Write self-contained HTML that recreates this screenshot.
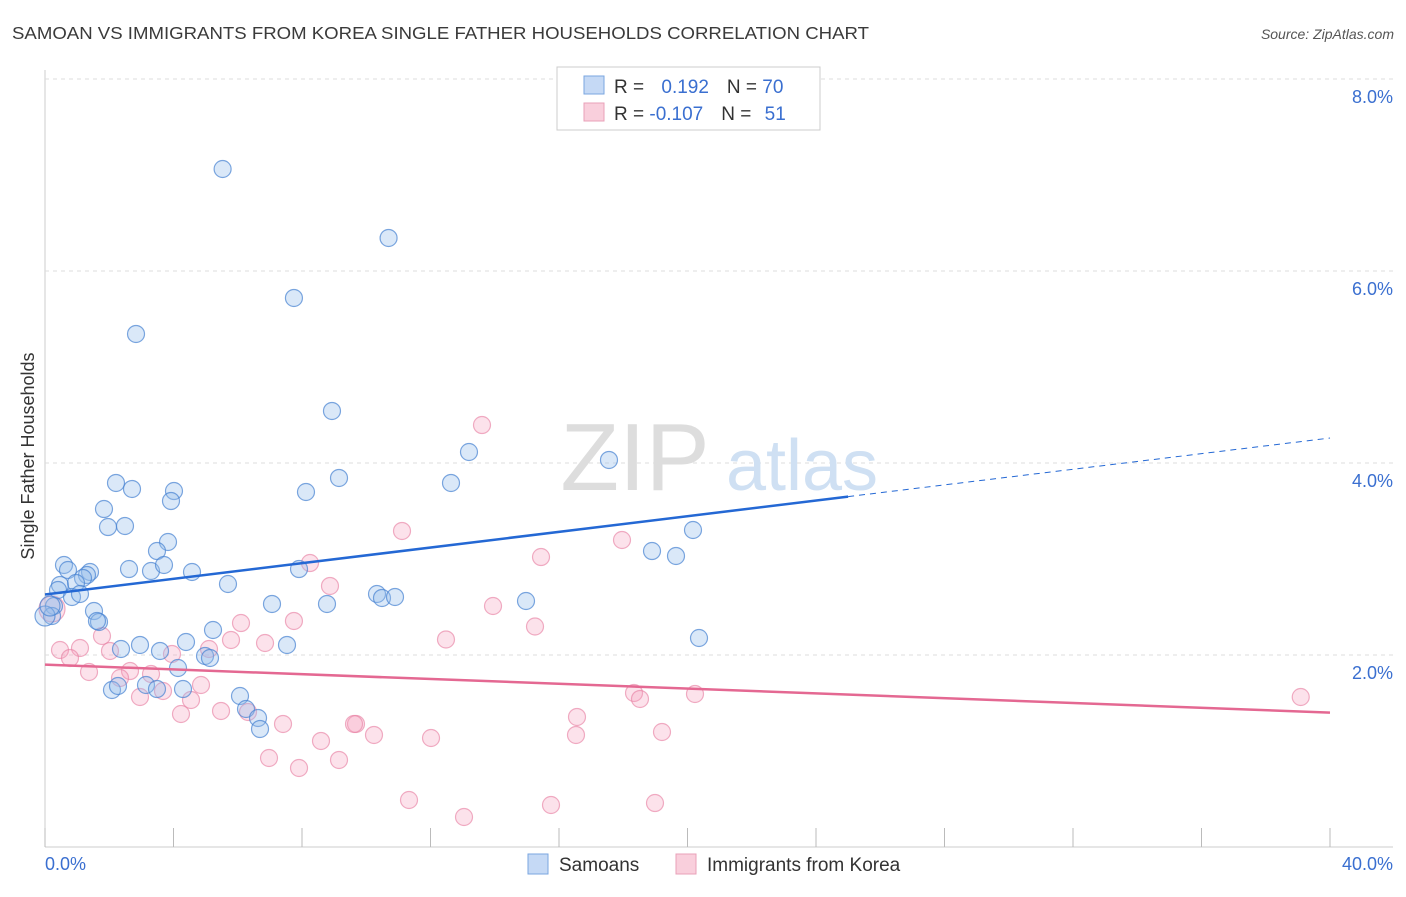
<!DOCTYPE html>
<html><head><meta charset="utf-8"><style>
body{margin:0;background:#fff;font-family:"Liberation Sans",sans-serif;}
svg text{font-family:"Liberation Sans",sans-serif;}
</style></head><body>
<svg id="chart" width="1406" height="892" viewBox="0 0 1406 892" xmlns="http://www.w3.org/2000/svg">
<text x="12" y="39" font-size="17.5" fill="#3a3a3a" textLength="857" lengthAdjust="spacingAndGlyphs">SAMOAN VS IMMIGRANTS FROM KOREA SINGLE FATHER HOUSEHOLDS CORRELATION CHART</text>
<text x="1394" y="39" font-size="14" fill="#555" text-anchor="end" font-style="italic">Source: ZipAtlas.com</text>
<text transform="translate(34,456) rotate(-90)" font-size="18" fill="#333" text-anchor="middle">Single Father Households</text>
<g id="grid"></g>
<g><text x="635" y="490" font-size="96" fill="#ddd" font-family="Liberation Serif" text-anchor="middle">ZIP</text><text x="802" y="490" font-size="72" fill="#cfe0f3" text-anchor="middle">atlas</text></g>
<g id="points"></g>
<g id="trends"></g>
<g id="xticks"></g>
<g>
<rect x="557" y="67" width="263" height="63" fill="#fff" stroke="#ccc"/>
<rect x="584" y="76" width="20" height="18" fill="#c5d9f5" stroke="#7aa6e0"/>
<rect x="584" y="103" width="20" height="18" fill="#f9cfdc" stroke="#e9a0b8"/>
<text x="614" y="93" font-size="19" fill="#333">R = <tspan fill="#3a6fd0" dx="12">0.192</tspan><tspan dx="18" fill="#333">N = </tspan><tspan fill="#3a6fd0">70</tspan></text>
<text x="614" y="120" font-size="19" fill="#333">R = <tspan fill="#3a6fd0">-0.107</tspan><tspan dx="18" fill="#333">N = </tspan><tspan fill="#3a6fd0" dx="8">51</tspan></text>
</g>
<g>
<rect x="528" y="854" width="20" height="20" fill="#c5d9f5" stroke="#7aa6e0"/>
<text x="559" y="871" font-size="19" fill="#333">Samoans</text>
<rect x="676" y="854" width="20" height="20" fill="#f9cfdc" stroke="#e9a0b8"/>
<text x="707" y="871" font-size="19" fill="#333">Immigrants from Korea</text>
</g>
<text x="45" y="870" font-size="18" fill="#3a6fd0">0.0%</text>
<text x="1393" y="870" font-size="18" fill="#3a6fd0" text-anchor="end">40.0%</text>
</svg>
<script>
const yTicks=[2,4,6,8];
const yTickLabels=["2.0%","4.0%","6.0%","8.0%"];
const xTicks=[0,4,8,12,16,20,24,28,32,36,40];
const samoanX=[5.529,10.695,7.749,2.833,8.933,13.198,17.556,2.210,2.708,4.015,3.922,8.124,9.152,12.638,1.836,1.961,2.490,20.171,3.829,3.486,18.895,19.642,0.591,0.716,1.401,1.307,1.183,2.615,3.300,3.704,4.576,7.907,0.467,0.965,0.405,0.840,1.089,5.696,10.335,10.490,10.895,14.973,7.066,8.778,0.280,1.525,0.218,1.681,1.618,4.389,2.957,5.230,7.533,20.358,2.366,3.580,4.981,5.136,4.140,3.144,2.085,2.272,3.486,4.296,6.070,6.257,6.631,6.693,0.0,0.156];
const samoanY=[7.0625,6.3438,5.7188,5.3438,4.5417,4.1146,4.0313,3.7917,3.7292,3.7083,3.6042,3.6979,3.8438,3.7917,3.5208,3.3333,3.3438,3.3021,3.1771,3.0833,3.0833,3.0313,2.9375,2.8854,2.8646,2.8333,2.8021,2.8958,2.8750,2.9375,2.8646,2.8958,2.7292,2.7500,2.6771,2.6042,2.6354,2.7396,2.6354,2.5938,2.6042,2.5625,2.5313,2.5313,2.5104,2.4583,2.4063,2.3438,2.3542,2.1354,2.1042,2.2604,2.1042,2.1771,2.0625,2.0417,1.9896,1.9688,1.8646,1.6875,1.6354,1.6771,1.6458,1.6458,1.5729,1.4375,1.3438,1.2292,2.4063,2.5104];
const koreaX=[13.603,11.113,17.961,15.440,8.249,8.871,13.946,7.749,6.101,15.253,12.482,1.774,6.849,5.790,0.467,1.089,0.778,2.023,5.105,3.953,1.370,2.646,3.300,2.335,3.673,4.856,2.957,4.545,18.335,18.521,20.233,4.233,5.479,6.319,7.409,9.681,9.619,10.241,16.560,16.529,19.206,12.016,8.591,6.973,9.152,7.907,11.331,15.751,18.988,13.043,0.218,39.089];
const koreaY=[4.3958,3.2917,3.1979,3.0208,2.9583,2.7188,2.5104,2.3542,2.3333,2.2969,2.1615,2.1979,2.1250,2.1563,2.0521,2.0729,1.9688,2.0417,2.0625,2.0104,1.8229,1.8333,1.8021,1.7604,1.6250,1.6875,1.5625,1.5313,1.6042,1.5417,1.5938,1.3854,1.4167,1.4063,1.2813,1.2813,1.2813,1.1667,1.3542,1.1667,1.1979,1.1354,1.1042,0.9271,0.9063,0.8229,0.4896,0.4375,0.4583,0.3125,2.4792,1.5625];
const blueTrend=[[0,2.63],[25,3.65],[40,4.26]];
const pinkTrend=[[0,1.90],[40,1.40]];
const NS="http://www.w3.org/2000/svg";
const X=v=>45+v/40*1285, Y=v=>847-v*96;
function mk(t,a,p){const e=document.createElementNS(NS,t);for(const k in a)e.setAttribute(k,a[k]);p.appendChild(e);return e;}
const grid=document.getElementById('grid');
mk('line',{x1:45,y1:70,x2:45,y2:847,stroke:'#ccc'},grid);
mk('line',{x1:45,y1:847,x2:1393,y2:847,stroke:'#ccc'},grid);
yTicks.forEach((v,i)=>{
 const l=mk('line',{x1:45,y1:Y(v),x2:1393,y2:Y(v),stroke:'#ddd','stroke-dasharray':'4,4'},grid);
 
 
 const t=mk('text',{x:1393,y:Y(v)+24,'font-size':18,fill:'#3a6fd0','text-anchor':'end'},grid);
 t.textContent=yTickLabels[i];
 
 
});
const xt=document.getElementById('xticks');
xTicks.forEach(v=>{const l=mk('line',{x1:X(v),y1:828,x2:X(v),y2:847,stroke:'#bbb'},xt);
 
 });
const pts=document.getElementById('points');
koreaX.forEach((x,i)=>{const c=mk('circle',{cx:X(x),cy:Y(koreaY[i]),r:i==50?13:8.5,fill:'rgba(244,160,188,0.3)',stroke:'rgba(232,130,165,0.65)','stroke-width':1.2},pts);
 
 });
samoanX.forEach((x,i)=>{const c=mk('circle',{cx:X(x),cy:Y(samoanY[i]),r:i>=68?10:8.5,fill:'rgba(150,188,235,0.35)',stroke:'rgba(70,130,210,0.7)','stroke-width':1.2},pts);
 
 });
const tr=document.getElementById('trends');
let b=mk('line',{x1:X(blueTrend[0][0]),y1:Y(blueTrend[0][1]),x2:X(blueTrend[1][0]),y2:Y(blueTrend[1][1]),stroke:'#2468d4','stroke-width':2.5},tr);


b=mk('line',{x1:X(blueTrend[1][0]),y1:Y(blueTrend[1][1]),x2:X(blueTrend[2][0]),y2:Y(blueTrend[2][1]),stroke:'#2468d4','stroke-width':1,'stroke-dasharray':'6,5'},tr);


b=mk('line',{x1:X(pinkTrend[0][0]),y1:Y(pinkTrend[0][1]),x2:X(pinkTrend[1][0]),y2:Y(pinkTrend[1][1]),stroke:'#e46892','stroke-width':2.5},tr);


</script>
</body></html>
